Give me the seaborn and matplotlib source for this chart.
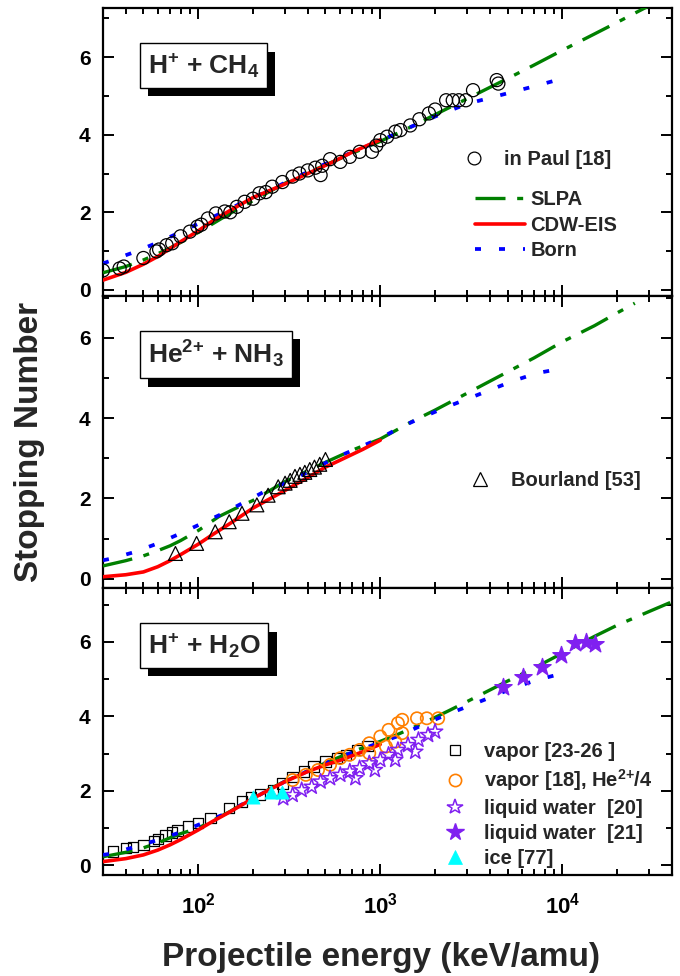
import numpy as np
import matplotlib
matplotlib.use("Agg")
import matplotlib.pyplot as plt
import seaborn as sns
from matplotlib import patheffects as pe
from matplotlib.lines import Line2D
from matplotlib.ticker import LogLocator, FuncFormatter, NullFormatter, MultipleLocator

# ---------------- data ----------------
# Panel 1: H+ + CH4
CH4_E_slpa = [30, 40, 50, 60, 70, 80, 100, 130, 160, 200, 250, 300, 400, 500, 700, 1000, 1500, 2000, 3000, 5000, 7000, 10000, 15000, 20000, 30000]
CH4_S_slpa = [0.44, 0.60, 0.77, 0.93, 1.08, 1.22, 1.48, 1.80, 2.05, 2.30, 2.55, 2.75, 3.02, 3.22, 3.52, 3.83, 4.22, 4.52, 4.93, 5.45, 5.80, 6.18, 6.60, 6.90, 7.33]
CH4_E_cdw = [30, 40, 50, 60, 70, 80, 100, 120, 150, 200, 300, 400, 550, 700, 1000]
CH4_S_cdw = [0.25, 0.45, 0.66, 0.86, 1.06, 1.24, 1.52, 1.78, 2.05, 2.38, 2.73, 3.00, 3.30, 3.55, 3.87]
CH4_E_born = [30, 34, 45, 60, 80, 105, 140, 185, 250, 320, 500, 700, 1000, 1500, 2000, 3000, 4000, 5000, 7000, 10000]
CH4_S_born = [0.68, 0.77, 0.98, 1.22, 1.49, 1.75, 2.02, 2.31, 2.58, 2.83, 3.25, 3.55, 3.85, 4.22, 4.47, 4.80, 4.95, 5.07, 5.25, 5.45]
CH4_E_paul = [30, 37, 39, 50, 59, 61, 67, 72, 80, 90, 99, 104, 113, 125, 140, 150, 163, 180, 200, 217, 235, 255, 290, 330, 360, 400, 440, 470, 480, 530,
              603, 680, 770, 900, 950, 1000, 1090, 1210, 1290, 1460, 1640, 1850, 2000, 2300, 2500, 2700, 2950, 3230, 4360, 4450]
CH4_S_paul = [0.50, 0.55, 0.60, 0.82, 0.99, 1.04, 1.15, 1.20, 1.38, 1.50, 1.63, 1.68, 1.84, 1.97, 2.02, 2.00, 2.14, 2.27, 2.35, 2.49, 2.52, 2.66, 2.78, 2.92, 3.00, 3.08, 3.15, 2.96, 3.20, 3.37,
              3.30, 3.43, 3.56, 3.56, 3.72, 3.86, 3.95, 4.08, 4.12, 4.24, 4.40, 4.55, 4.65, 4.89, 4.89, 4.89, 4.89, 5.15, 5.41, 5.32]

# Panel 2: He2+ + NH3
NH3_E_slpa = [30, 40, 50, 60, 70, 80, 100, 130, 160, 200, 300, 500, 700, 1000, 1500, 2000, 3000, 5000, 7000, 10000, 15000, 20000, 25000]
NH3_S_slpa = [0.32, 0.45, 0.57, 0.70, 0.82, 0.95, 1.20, 1.55, 1.75, 1.95, 2.42, 2.90, 3.20, 3.48, 3.92, 4.20, 4.62, 5.15, 5.50, 5.90, 6.30, 6.62, 6.86]
NH3_E_cdw = [30, 40, 50, 60, 70, 80, 100, 120, 150, 200, 300, 400, 500, 600, 800, 1000]
NH3_S_cdw = [0.05, 0.10, 0.17, 0.30, 0.45, 0.60, 0.86, 1.10, 1.38, 1.76, 2.20, 2.52, 2.78, 2.95, 3.22, 3.45]
NH3_E_born = [30, 34, 45, 60, 80, 105, 140, 185, 240, 320, 560, 1000, 1315, 1720, 2320, 3060, 4110, 5400, 7260, 9550]
NH3_S_born = [0.46, 0.51, 0.67, 0.88, 1.13, 1.38, 1.65, 1.94, 2.21, 2.43, 3.00, 3.50, 3.79, 4.03, 4.28, 4.49, 4.72, 4.93, 5.12, 5.22]
NH3_E_bourland = [75, 98, 124, 148, 174, 210, 242, 275, 300, 320, 340, 362, 385, 410, 435, 465, 500]
NH3_S_bourland = [0.63, 0.88, 1.17, 1.42, 1.63, 1.84, 2.08, 2.29, 2.38, 2.45, 2.55, 2.60, 2.65, 2.72, 2.78, 2.85, 2.97]

# Panel 3: H+ + H2O
H2O_E_slpa = [30, 40, 50, 60, 70, 80, 100, 150, 200, 300, 500, 700, 1000, 1250, 1720, 2370, 3000, 5000, 7000, 10000, 15000, 20000, 30000, 40000]
H2O_S_slpa = [0.23, 0.35, 0.47, 0.60, 0.74, 0.85, 1.00, 1.45, 1.82, 2.26, 2.75, 3.05, 3.33, 3.52, 3.82, 4.15, 4.40, 4.95, 5.30, 5.70, 6.15, 6.45, 6.82, 7.08]
H2O_E_cdw = [30, 40, 50, 60, 70, 80, 100, 120, 150, 200, 300, 400, 500, 600, 800, 1000]
H2O_S_cdw = [0.10, 0.18, 0.28, 0.41, 0.55, 0.69, 0.95, 1.18, 1.44, 1.80, 2.25, 2.52, 2.70, 2.82, 3.05, 3.25]
H2O_E_born = [30, 34, 45, 60, 80, 105, 140, 200, 300, 500, 700, 1000, 1315, 1720, 2320, 3060, 4110, 5400, 7260, 9550]
H2O_S_born = [0.28, 0.32, 0.50, 0.68, 0.89, 1.13, 1.38, 1.80, 2.25, 2.75, 3.03, 3.30, 3.51, 3.78, 4.05, 4.28, 4.53, 4.77, 4.98, 5.13]
H2O_E_vapor = [34, 40, 44, 50, 57, 60, 66, 72, 77, 88, 100, 117, 148, 174, 195, 219, 258, 290, 330, 380, 430, 500, 580, 650, 750, 850]
H2O_S_vapor = [0.37, 0.46, 0.50, 0.55, 0.66, 0.70, 0.80, 0.88, 0.93, 1.04, 1.13, 1.27, 1.54, 1.72, 1.84, 1.90, 2.03, 2.20, 2.37, 2.52, 2.65, 2.79, 2.88, 2.97, 3.10, 3.20]
H2O_E_vapor18 = [330, 390, 455, 530, 603, 680, 770, 870, 870, 1000, 1075, 1110, 1208, 1250, 1320, 1320, 1590, 1800, 2080]
H2O_S_vapor18 = [2.29, 2.43, 2.56, 2.70, 2.88, 2.97, 3.10, 3.28, 3.01, 3.46, 3.19, 3.64, 3.32, 3.82, 3.91, 3.55, 3.95, 3.95, 3.95]
H2O_E_liq20 = [293, 330, 370, 420, 470, 530, 603, 680, 730, 770, 870, 934, 1000, 1110, 1208, 1250, 1420, 1556, 1620, 1830, 2000]
H2O_S_liq20 = [1.80, 1.89, 2.02, 2.11, 2.25, 2.34, 2.43, 2.52, 2.34, 2.61, 2.74, 2.56, 2.83, 2.97, 2.83, 3.10, 3.23, 3.05, 3.37, 3.50, 3.59]
H2O_E_liq21 = [4740, 6080, 7680, 9780, 11800, 13550, 15200]
H2O_S_liq21 = [4.80, 5.05, 5.32, 5.65, 5.98, 6.01, 5.95]
H2O_E_ice = [200, 250, 290]
H2O_S_ice = [1.83, 1.98, 1.98]

panel_titles = [r"H$^{+}$ + CH$_{4}$", r"He$^{2{+}}$ + NH$_{3}$", r"H$^{+}$ + H$_{2}$O"]
line_labels = ["SLPA", "CDW-EIS", "Born"]
x_label = "Projectile energy (keV/amu)"
y_label = "Stopping Number"

# ---------------- style ----------------
sns.set_style("ticks")
plt.rcParams["font.family"] = ["Liberation Sans", "DejaVu Sans"]
plt.rcParams["font.weight"] = "bold"
plt.rcParams["mathtext.default"] = "regular"

GREEN = "#008000"
RED = "#FF0000"
BLUE = "#0000FF"
ORANGE = "#FF7F00"
PURPLE = "#8020F0"
CYAN = "#00FFFF"
SLPA_LS = (0, (9, 3.5, 1.8, 3.5))
BORN_LS = (0, (1.6, 4.8))

fig = plt.figure(figsize=(6.8, 9.76), dpi=100)
L, W = 103 / 680, 569 / 680
ax1 = fig.add_axes([L, 1 - 296 / 976, W, 288 / 976])
ax2 = fig.add_axes([L, 1 - 588 / 976, W, 292 / 976])
ax3 = fig.add_axes([L, 1 - 875 / 976, W, 287 / 976])
axes = [ax1, ax2, ax3]
ylims = [(-0.16, 7.27), (-0.23, 7.04), (-0.26, 7.45)]


def draw_models(ax, E_s, S_s, E_c, S_c, E_b, S_b):
    sns.lineplot(x=E_s, y=S_s, ax=ax, color=GREEN, lw=2.4, linestyle=SLPA_LS,
                 sort=False, estimator=None, zorder=3)
    sns.lineplot(x=E_b, y=S_b, ax=ax, color=BLUE, lw=2.7, linestyle=BORN_LS,
                 sort=False, estimator=None, zorder=3)
    sns.lineplot(x=E_c, y=S_c, ax=ax, color=RED, lw=2.6, linestyle="-",
                 sort=False, estimator=None, zorder=4)


for ax, yl in zip(axes, ylims):
    ax.set_xscale("log")
    ax.set_xlim(30, 40000)
    ax.set_ylim(*yl)

# panel 1
draw_models(ax1, CH4_E_slpa, CH4_S_slpa, CH4_E_cdw, CH4_S_cdw, CH4_E_born, CH4_S_born)
sns.scatterplot(x=CH4_E_paul, y=CH4_S_paul, ax=ax1, marker="o", s=9.4 ** 2,
                facecolors="none", edgecolor="black", linewidth=0.9, zorder=5)

# panel 2
draw_models(ax2, NH3_E_slpa, NH3_S_slpa, NH3_E_cdw, NH3_S_cdw, NH3_E_born, NH3_S_born)
sns.scatterplot(x=NH3_E_bourland, y=NH3_S_bourland, ax=ax2, marker="^", s=10 ** 2,
                facecolors="none", edgecolor="black", linewidth=0.9, zorder=5)

# panel 3
draw_models(ax3, H2O_E_slpa, H2O_S_slpa, H2O_E_cdw, H2O_S_cdw, H2O_E_born, H2O_S_born)
sns.scatterplot(x=H2O_E_vapor, y=H2O_S_vapor, ax=ax3, marker="s", s=7.5 ** 2,
                facecolors="none", edgecolor="black", linewidth=0.9, zorder=2)
sns.scatterplot(x=H2O_E_vapor18, y=H2O_S_vapor18, ax=ax3, marker="o", s=8.8 ** 2,
                facecolors="none", edgecolor=ORANGE, linewidth=1.2, zorder=5)
sns.scatterplot(x=H2O_E_liq20, y=H2O_S_liq20, ax=ax3, marker="*", s=11.5 ** 2,
                facecolors="none", edgecolor=PURPLE, linewidth=1.1, zorder=5)
sns.scatterplot(x=H2O_E_liq21, y=H2O_S_liq21, ax=ax3, marker="*", s=13 ** 2,
                color=PURPLE, edgecolor=PURPLE, linewidth=1.0, zorder=5)
sns.scatterplot(x=H2O_E_ice, y=H2O_S_ice, ax=ax3, marker="^", s=9.5 ** 2,
                color=CYAN, edgecolor=CYAN, linewidth=0.5, zorder=5)

# ---------------- axes formatting ----------------
for i, ax in enumerate(axes):
    ax.xaxis.set_major_locator(LogLocator(base=10, numticks=10))
    ax.xaxis.set_minor_locator(LogLocator(base=10, subs=np.arange(2, 10), numticks=40))
    ax.xaxis.set_minor_formatter(NullFormatter())
    ax.xaxis.set_major_formatter(FuncFormatter(lambda v, p: r"$\mathregular{10^{%d}}$" % round(np.log10(v))))
    ax.yaxis.set_major_locator(MultipleLocator(2))
    ax.yaxis.set_minor_locator(MultipleLocator(1))
    ax.tick_params(which="both", direction="in", top=True, right=True, width=1.4, colors="black")
    ax.tick_params(which="major", length=8, labelsize=15, pad=9)
    ax.tick_params(which="minor", length=4.5)
    ax.tick_params(axis="x", which="major", pad=13, labelsize=16)
    for sp in ax.spines.values():
        sp.set_linewidth(1.6)
        sp.set_color("black")
    ax.set_xlabel("")
    ax.set_ylabel("")
    if i < 2:
        ax.tick_params(labelbottom=False)

    t = ax.text(0.079, 0.80, panel_titles[i], transform=ax.transAxes, fontsize=19,
                fontweight="bold", ha="left", va="center", zorder=10,
                bbox=dict(boxstyle="square,pad=0.3", fc="white", ec="black", lw=1.0))
    t.get_bbox_patch().set_path_effects([
        pe.SimplePatchShadow(offset=(5.8, -6.2), shadow_rgbFace="black", alpha=1.0),
        pe.Normal()])

# ---------------- legends ----------------
def mk(marker, ms, mfc, mec, mew):
    return Line2D([], [], ls="none", marker=marker, ms=ms, mfc=mfc, mec=mec, mew=mew)

leg_kw = dict(loc="upper left", frameon=False, borderpad=0, borderaxespad=0,
              fontsize=14.5)

lg = ax1.legend([mk("o", 9.2, "none", "black", 0.9)], ["in Paul [18]"],
                bbox_to_anchor=(0.631, 0.507), handlelength=1.15, handletextpad=0.95,
                labelspacing=0.3, **leg_kw)
ax1.add_artist(lg)
line_handles = [Line2D([], [], color=GREEN, lw=2.4, ls=SLPA_LS),
                Line2D([], [], color=RED, lw=2.6, ls="-"),
                Line2D([], [], color=BLUE, lw=2.7, ls=BORN_LS)]
ax1.legend(line_handles, line_labels, bbox_to_anchor=(0.654, 0.367),
           handlelength=2.5, handletextpad=0.25, labelspacing=0.32, **leg_kw)

ax2.legend([mk("^", 9.5, "none", "black", 0.9)], ["Bourland [53]"],
           bbox_to_anchor=(0.643, 0.399), handlelength=1.15, handletextpad=0.95,
           labelspacing=0.3, **leg_kw)

h3 = [mk("s", 7.5, "none", "black", 0.9),
      mk("o", 8.8, "none", ORANGE, 1.2),
      mk("*", 11.5, "none", PURPLE, 1.1),
      mk("*", 13, PURPLE, PURPLE, 1.0),
      mk("^", 9.5, CYAN, CYAN, 0.5)]
l3 = ["vapor [23-26 ]", r"vapor [18], He$^{2{+}}$/4", "liquid water  [20]",
      "liquid water  [21]", "ice [77]"]
ax3.legend(h3, l3, bbox_to_anchor=(0.599, 0.462), handlelength=1.15, handletextpad=0.85,
           labelspacing=0.3, **leg_kw)

# ---------------- axis titles ----------------
fig.text(0.044, 0.5477, y_label, rotation=90, ha="center", va="center", fontsize=24, fontweight="bold")
fig.text(0.561, 1 - 966 / 976, x_label, ha="center", va="baseline", fontsize=24, fontweight="bold")

fig.savefig("out.png", dpi=100)
